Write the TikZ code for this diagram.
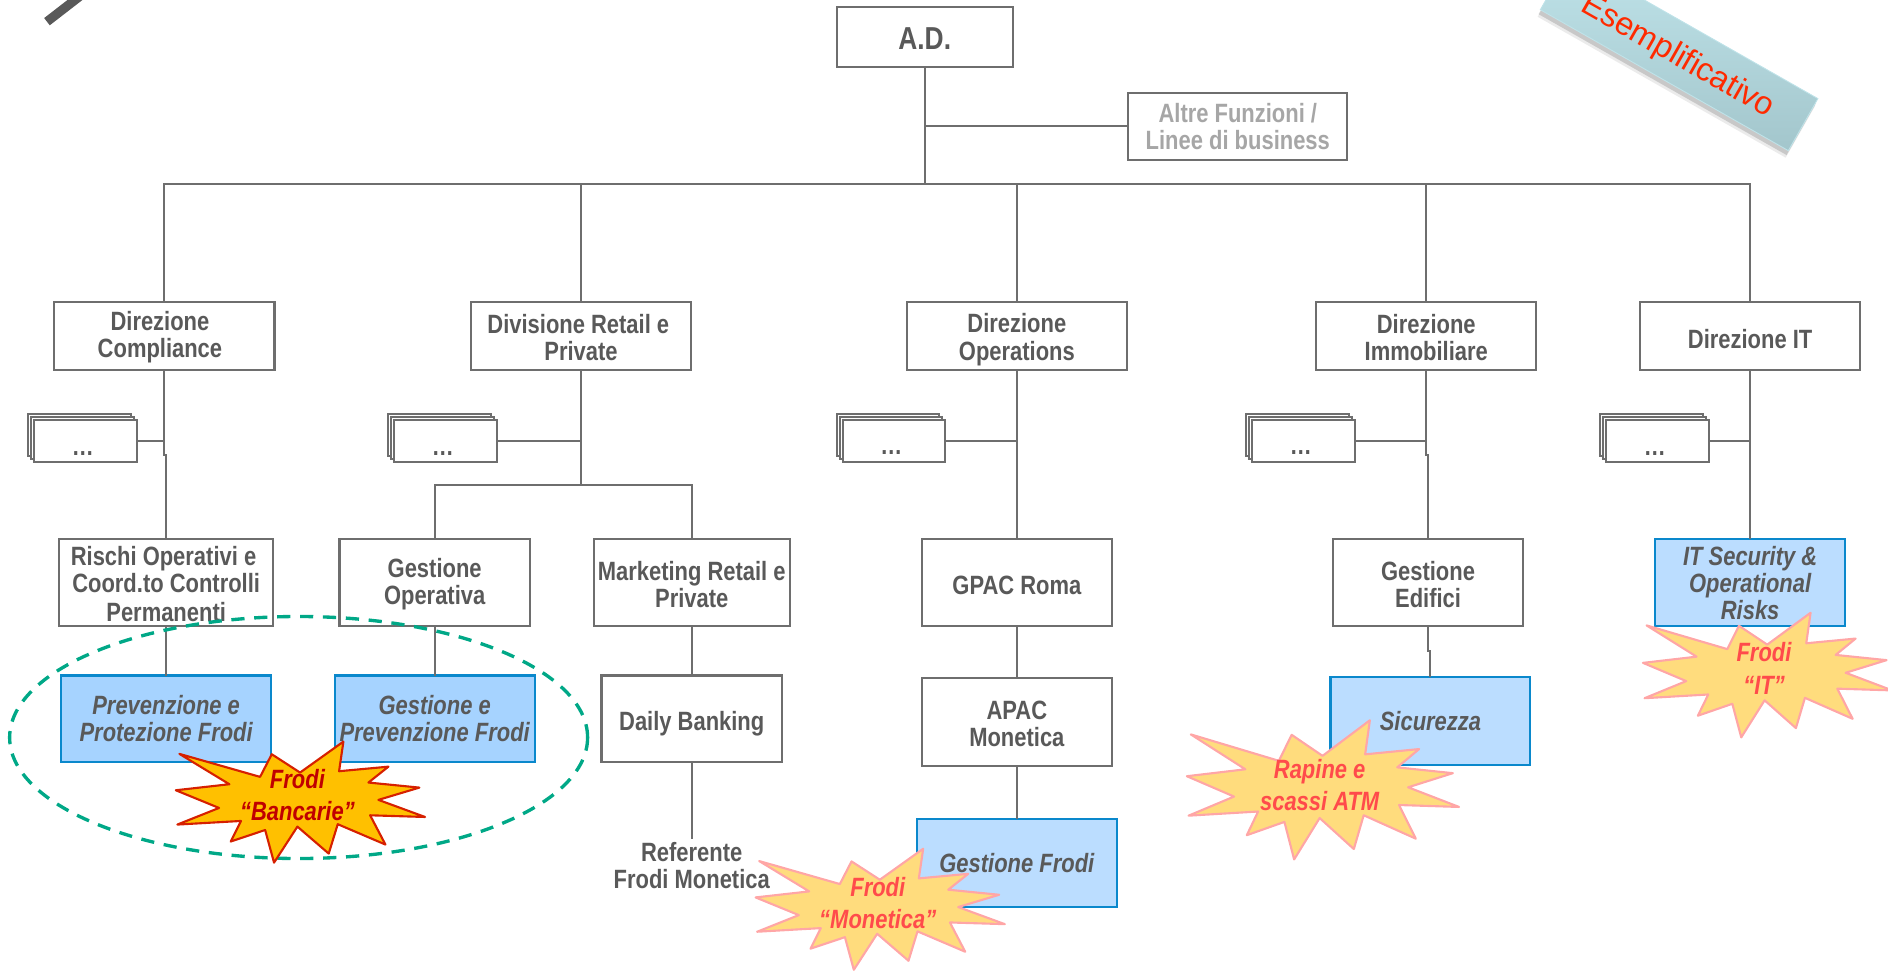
\documentclass[tikz,border=0pt]{standalone}
\usepackage{fontspec}
\usepackage{xcolor}
\usetikzlibrary{shadows}
\setmainfont{Liberation Sans}
\newfontfamily\orgfont[FakeStretch=0.83]{Liberation Sans}
\newcommand{\lowered}[1]{\rule{0pt}{#1}}

\definecolor{orggray}{HTML}{595959}
\definecolor{linegray}{HTML}{6E6E6E}
\definecolor{softgray}{HTML}{A6A6A6}
\definecolor{deepblue}{HTML}{A6D3FF}
\definecolor{paleblue}{HTML}{BBDDFF}
\definecolor{edgeblue}{HTML}{0A88CC}
\definecolor{dashgreen}{HTML}{00A887}
\definecolor{burstgold}{HTML}{FFC000}
\definecolor{burstpale}{HTML}{FFDC7D}
\definecolor{burstpink}{HTML}{FFA6A6}
\definecolor{burstred}{HTML}{D62000}
\definecolor{burstdeep}{HTML}{C00000}
\definecolor{fraudred}{HTML}{FF4B4B}
\definecolor{bannerred}{HTML}{FF2A00}
\definecolor{bannerlight}{HTML}{BFE3E9}
\definecolor{bannerdark}{HTML}{A3C6CC}

\tikzset{
  orgbox/.style 2 args={draw=linegray,line width=1.2pt,fill=white,inner sep=0pt,outer sep=0pt,
    minimum width=#1*0.024cm,minimum height=#2*0.024cm,align=center,text=orggray,
    font=\orgfont\fontsize{15}{15.4}\selectfont\bfseries},
  fraudbox/.style 2 args={orgbox={#1}{#2},draw=edgeblue,fill=paleblue,
    font=\orgfont\fontsize{15}{15.4}\selectfont\bfseries\itshape},
  stackbox/.style={orgbox={85}{35},double copy shadow={shadow xshift=-1.7pt,shadow yshift=1.7pt}},
  link/.style={draw=linegray,line width=1.1pt},
  burstlabel/.style={align=center,inner sep=0pt,text=fraudred,
    font=\orgfont\fontsize{15}{15.4}\selectfont\bfseries\itshape},
  burst/.pic={
    \draw[pic actions,line join=round] (-100.5,-39.9) -- (-33.5,-20.8) -- (-23.8,-39.6) -- (-0.3,-24.4)
      -- (35.7,-50.1) -- (32.1,-25.5) -- (73.1,-29.3) -- (56.5,-16.1) -- (98.8,-11.9) -- (64.8,-1.7)
      -- (103.5,12.5) -- (57.9,11.1) -- (70.6,35.4) -- (31,18.5) -- (23.5,42.9) -- (-2.5,20.5)
      -- (-21.9,50.4) -- (-29.3,23.3) -- (-57.9,32.9) -- (-49.3,15.8) -- (-102.2,18.8) -- (-67.6,5)
      -- (-103.5,-9.7) -- (-59,-14.7) -- cycle;
  },
  burstsoft/.style={fill=burstpale,draw=burstpink,line width=1.2pt},
  burststrong/.style={fill=burstgold,draw=burstred,line width=1.2pt},
}

\begin{document}
\begin{tikzpicture}[x=0.024cm,y=-0.024cm]
        \useasboundingbox (0,0) rectangle (1568,806);

        % Corner stroke
        \draw[orggray,line width=5.2pt] (39,18) -- (70,-6);

        % Banner
        \node[rotate=-29.6,minimum width=236.9*0.024cm,minimum height=49.7*0.024cm,inner sep=0pt,
              top color=bannerlight,bottom color=bannerdark,draw=bannerlight,line width=0.5pt,
              drop shadow={shadow xshift=-1.5pt,shadow yshift=-4pt,opacity=0.08,fill=black},
              drop shadow={shadow xshift=-1pt,shadow yshift=-2.5pt,opacity=0.15,fill=black},
              text=bannerred,font=\fontsize{18.4}{20}\selectfont] (banner) at (1394.5,45) {\lowered{17pt}Esemplificativo};

        % Top of the chart
        \node[orgbox={146}{50},font=\orgfont\fontsize{18}{20}\selectfont\bfseries] (ad) at (768,31) {\lowered{14pt}A.D.};
        \node[orgbox={182}{56},draw=linegray,text=softgray] (altre) at (1028,105) {Altre Funzioni /\\Linee di business};
        \coordinate (bus) at (768,153);
        \draw[link] (ad.south) -- (bus);
        \draw[link] (ad.south) |- (altre.west);

        % Directions
        \node[orgbox={183}{56}] (compl) at (136.5,279) {\lowered{12pt}Direzione\hspace*{5pt}\\Compliance\hspace*{5pt}};
        \node[orgbox={183}{56}] (retail) at (482.5,279) {\lowered{13pt}Divisione Retail e\hspace*{3pt}\\Private};
        \node[orgbox={183}{56}] (oper) at (844.5,279) {\lowered{15pt}Direzione\\Operations};
        \node[orgbox={183}{56}] (immob) at (1184.5,279) {\lowered{13pt}Direzione\\Immobiliare};
        \node[orgbox={183}{56}] (itdir) at (1453.5,279) {\lowered{14pt}Direzione IT};
        \foreach \dir in {compl,retail,oper,immob,itdir}
          \draw[link] (bus) -| (\dir.north);

        % Stacks of minor units
        \node[stackbox] (stackA) at (71,366.5) {\lowered{16pt}\dots\hspace*{3pt}};
        \node[stackbox] (stackB) at (370,366.5) {\lowered{16pt}\dots\hspace*{3pt}};
        \node[stackbox] (stackC) at (742.5,366) {\lowered{16pt}\dots\hspace*{3pt}};
        \node[stackbox] (stackD) at (1082.5,366) {\lowered{16pt}\dots\hspace*{3pt}};
        \node[stackbox] (stackE) at (1376.5,366.5) {\lowered{16pt}\dots\hspace*{3pt}};

        % Third row
        \node[orgbox={178}{72}] (rischi) at (138,484) {\lowered{12pt}Rischi Operativi e\hspace*{3pt}\\Coord.to Controlli\hspace*{3pt}\\[1pt]Permanenti};
        \node[orgbox={158}{72}] (gestop) at (361,484) {\lowered{12pt}Gestione\\Operativa};
        \node[orgbox={163}{72}] (mkt) at (574.5,484) {\lowered{13pt}Marketing Retail e\\Private};
        \node[orgbox={158}{72}] (gpac) at (844.5,484) {\lowered{14pt}GPAC Roma};
        \node[orgbox={158}{72}] (edifici) at (1186,484) {\lowered{13pt}Gestione\\Edifici};
        \node[fraudbox={158}{72}] (itsec) at (1453.5,484) {IT Security \&\\Operational\\Risks};

        % Fourth row
        \node[fraudbox={174}{72},fill=deepblue] (protez) at (138,597) {Prevenzione e\\Protezione Frodi};
        \node[fraudbox={166}{72},fill=deepblue] (gestprev) at (361,597) {Gestione e\\Prevenzione Frodi};
        \node[orgbox={150}{72}] (daily) at (574.5,597) {\lowered{16pt}Daily Banking};
        \node[orgbox={158}{73}] (apac) at (844.5,599.5) {\lowered{13pt}APAC\\Monetica};
        \node[fraudbox={166}{73}] (sicur) at (1188,598.5) {Sicurezza};

        % Last row
        \node[fraudbox={166}{73}] (gestfrodi) at (844.5,716.5) {Gestione Frodi};
        \node[align=center,inner sep=2pt,text=orggray,font=\orgfont\fontsize{15}{15.4}\selectfont\bfseries] (refer) at (574.5,719) {Referente\\Frodi Monetica};

        % Connectors
        \draw[link] (stackA.east) -- (stackA.east -| compl.south);
        \draw[link] (stackB.east) -- (stackB.east -| retail.south);
        \draw[link] (stackC.east) -- (stackC.east -| oper.south);
        \draw[link] (stackD.east) -- (stackD.east -| immob.south);
        \draw[link] (stackE.east) -- (stackE.east -| itdir.south);
        \draw[link] (compl.south) -- ++(0,71) -| (rischi.north);
        \draw[link] (retail.south) -- ++(0,96) coordinate (fork);
        \draw[link] (fork) -| (gestop.north);
        \draw[link] (fork) -| (mkt.north);
        \draw[link] (oper.south) -- (gpac.north);
        \draw[link] (immob.south) -- ++(0,71) -| (edifici.north);
        \draw[link] (itdir.south) -- (itsec.north);
        \draw[link] (rischi.south) -- (protez.north);
        \draw[link] (gestop.south) -- (gestprev.north);
        \draw[link] (mkt.south) -- (daily.north);
        \draw[link] (gpac.south) -- (apac.north);
        \draw[link] (edifici.south) -- ++(0,21) -| (sicur.north);
        \draw[link] (daily.south) -- (refer.north);
        \draw[link] (apac.south) -- (gestfrodi.north);

        % Dashed grouping
        \draw[dashgreen,line width=1.9pt,dash pattern=on 7.5pt off 5.5pt] (248,612.5) ellipse [x radius=240,y radius=100.5];

        % Bursts
        \pic[burststrong] at (249.5,666) {burst};
        \node[burstlabel,text=burstdeep] (burstbanc) at (247,660.5) {Frodi\\[3pt]“Bancarie”};
        \pic[burstsoft] at (731,755) {burst};
        \node[burstlabel] (burstmon) at (729,750) {Frodi\\[3pt]“Monetica”};
        \pic[burstsoft,xscale=1.092,yscale=1.15] at (1098.7,655.8) {burst};
        \node[burstlabel] (burstrap) at (1096,652) {Rapine e\\[3pt]scassi ATM};
        \pic[burstsoft,yscale=1.03] at (1468,560.5) {burst};
        \node[burstlabel] (burstit) at (1465,555) {Frodi\\[3pt]“IT”};
    \end{tikzpicture}
\end{document}
